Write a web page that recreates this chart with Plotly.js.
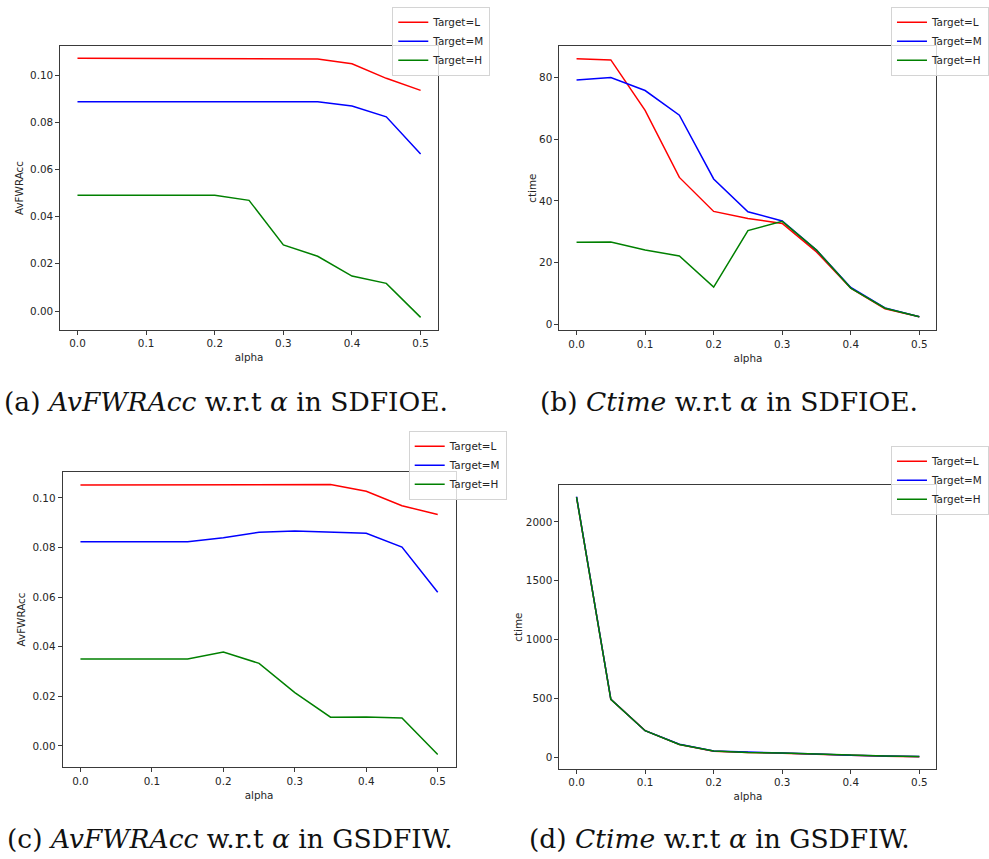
<!DOCTYPE html>
<html>
<head>
<meta charset="utf-8">
<script src="https://cdn.plot.ly/plotly-3.0.1.min.js"></script>
<style>
html,body{margin:0;padding:0;background:#fff;}
#chart{width:989px;height:859px;}
</style>
</head>
<body>
<div id="chart"></div>
<script>
// ---------- data ----------
const alpha = [0.0, 0.05, 0.1, 0.15, 0.2, 0.25, 0.3, 0.35, 0.4, 0.45, 0.5];
const seriesNames = ["Target=L", "Target=M", "Target=H"];
const seriesColors = ["red", "blue", "green"];

// (a) AvFWRAcc, SDFIOE
const a_L = [0.1071, 0.1071, 0.1071, 0.1071, 0.1071, 0.1071, 0.1071, 0.1068, 0.1048, 0.0986, 0.0935];
const a_M = [0.0887, 0.0887, 0.0887, 0.0887, 0.0887, 0.0887, 0.0887, 0.0887, 0.0869, 0.0823, 0.0665];
const a_H = [0.0490, 0.0490, 0.0490, 0.0490, 0.0490, 0.0469, 0.0280, 0.0232, 0.0148, 0.0117, -0.0027];

// (b) ctime, SDFIOE
const b_L = [86.0, 85.6, 69.3, 47.6, 36.6, 34.3, 32.7, 23.5, 11.8, 5.1, 2.5];
const b_M = [79.1, 79.9, 75.7, 67.7, 47.1, 36.5, 33.5, 24.1, 12.0, 5.4, 2.5];
const b_H = [26.6, 26.7, 24.1, 22.2, 12.1, 30.4, 33.4, 24.1, 11.8, 5.3, 2.5];

// (c) AvFWRAcc, GSDFIW
const c_L = [0.1052, 0.1052, 0.1052, 0.1052, 0.1052, 0.1052, 0.1055, 0.1054, 0.1027, 0.0969, 0.0933];
const c_M = [0.0824, 0.0824, 0.0824, 0.0824, 0.0840, 0.0862, 0.0867, 0.0863, 0.0858, 0.0802, 0.0620];
const c_H = [0.0351, 0.0351, 0.0351, 0.0351, 0.0379, 0.0333, 0.0215, 0.0116, 0.0117, 0.0113, -0.0034];

// (d) ctime, GSDFIW
const d_L = [2210, 490, 225, 106, 50, 38, 33, 24, 13, 7, 3];
const d_M = [2215, 492, 224, 108, 52, 40, 34, 26, 14, 9, 5];
const d_H = [2212, 491, 224, 107, 51, 39, 34, 25, 13, 8, 4];

const xTicks = [0.0, 0.1, 0.2, 0.3, 0.4, 0.5];
const xTickText = ["0.0", "0.1", "0.2", "0.3", "0.4", "0.5"];
const accTicks = [0.00, 0.02, 0.04, 0.06, 0.08, 0.10];
const accTickText = ["0.00", "0.02", "0.04", "0.06", "0.08", "0.10"];
const ctimeTicksB = [0, 20, 40, 60, 80];
const ctimeTicksD = [0, 500, 1000, 1500, 2000];

const captions = [
  "(a) <i>AvFWRAcc</i> w.r.t <i>α</i> in SDFIOE.",
  "(b) <i>Ctime</i> w.r.t <i>α</i> in SDFIOE.",
  "(c) <i>AvFWRAcc</i> w.r.t <i>α</i> in GSDFIW.",
  "(d) <i>Ctime</i> w.r.t <i>α</i> in GSDFIW."
];

// ---------- layout helpers ----------
const W = 989, H = 859;
const px = v => v / W;
const py = v => 1 - v / H;

const panels = [
  {ys: [a_L, a_M, a_H], xa: "x",  ya: "y",  leg: "legend",  ytitle: "AvFWRAcc", ysoff: 4,
   dom: {l: 61, r: 442.7, t: 46, b: 330}, xr: [-0.025, 0.525], yr: [-0.00805, 0.1123],
   yt: accTicks, ytt: accTickText, legPos: [396.7, 6.7]},
  {ys: [b_L, b_M, b_H], xa: "x2", ya: "y2", leg: "legend2", ytitle: "ctime", ysoff: 0,
   dom: {l: 565.7, r: 947, t: 46, b: 330.3}, xr: [-0.025, 0.525], yr: [-1.85, 90.1],
   yt: ctimeTicksB, ytt: ctimeTicksB.map(String), legPos: [901, 6.7]},
  {ys: [c_L, c_M, c_H], xa: "x3", ya: "y3", leg: "legend3", ytitle: "AvFWRAcc", ysoff: 4,
   dom: {l: 63.3, r: 460.7, t: 471.7, b: 767.3}, xr: [-0.025, 0.525], yr: [-0.0086, 0.1106],
   yt: accTicks, ytt: accTickText, legPos: [413.3, 430.7]},
  {ys: [d_L, d_M, d_H], xa: "x4", ya: "y4", leg: "legend4", ytitle: "ctime", ysoff: 1,
   dom: {l: 565.7, r: 947, t: 485.3, b: 769}, xr: [-0.025, 0.525], yr: [-102, 2312],
   yt: ctimeTicksD, ytt: ctimeTicksD.map(String), legPos: [901, 445.7]}
];

const FS = 10.4;
const txtFont = {family: "DejaVu Sans", size: FS, color: "#262626"};
const data = [];
const layout = {
  width: W, height: H,
  margin: {l: 0, r: 0, t: 0, b: 0},
  paper_bgcolor: "#fff", plot_bgcolor: "#fff",
  font: txtFont,
  showlegend: true,
  annotations: []
};

panels.forEach((p, i) => {
  const sfx = i === 0 ? "" : String(i + 1);
  p.ys.forEach((yv, k) => {
    data.push({
      type: "scatter", mode: "lines",
      x: alpha, y: yv,
      name: seriesNames[k],
      line: {color: seriesColors[k], width: 1.5},
      xaxis: p.xa, yaxis: p.ya,
      legend: p.leg,
      hoverinfo: "skip"
    });
  });
  const axCommon = {
    showgrid: false, zeroline: false,
    showline: true, mirror: true, linecolor: "#3a3a3a", linewidth: 1,
    ticks: "outside", ticklen: 4, tickwidth: 1, tickcolor: "#3a3a3a",
    tickfont: txtFont, fixedrange: true, automargin: false
  };
  layout["xaxis" + sfx] = Object.assign({}, axCommon, {
    domain: [px(p.dom.l), px(p.dom.r)],
    anchor: "y" + sfx,
    range: p.xr, tickmode: "array", tickvals: xTicks, ticktext: xTickText,
    title: {text: "alpha", font: txtFont, standoff: 5}
  });
  layout["yaxis" + sfx] = Object.assign({}, axCommon, {
    domain: [py(p.dom.b), py(p.dom.t)],
    anchor: "x" + sfx,
    range: p.yr, tickmode: "array", tickvals: p.yt, ticktext: p.ytt,
    title: {text: p.ytitle, font: txtFont, standoff: p.ysoff}
  });
  layout[p.leg] = {
    x: px(p.legPos[0]), y: py(p.legPos[1]),
    xanchor: "left", yanchor: "top",
    bgcolor: "rgba(255,255,255,0.8)", bordercolor: "#d4d4d4", borderwidth: 1,
    font: txtFont,
    itemwidth: 30, tracegroupgap: 0
  };
});

// captions
const capPos = [[229, 401], [737, 401], [233, 838], [728, 838]];
captions.forEach((c, i) => {
  layout.annotations.push({
    text: c, xref: "paper", yref: "paper",
    x: px(capPos[i][0]), y: py(capPos[i][1]),
    xanchor: "center", yanchor: "middle", showarrow: false,
    font: {family: "DejaVu Serif", size: 26.5, color: "#111"}
  });
});

Plotly.newPlot("chart", data, layout, {displayModeBar: false, staticPlot: true});
</script>
</body>
</html>
